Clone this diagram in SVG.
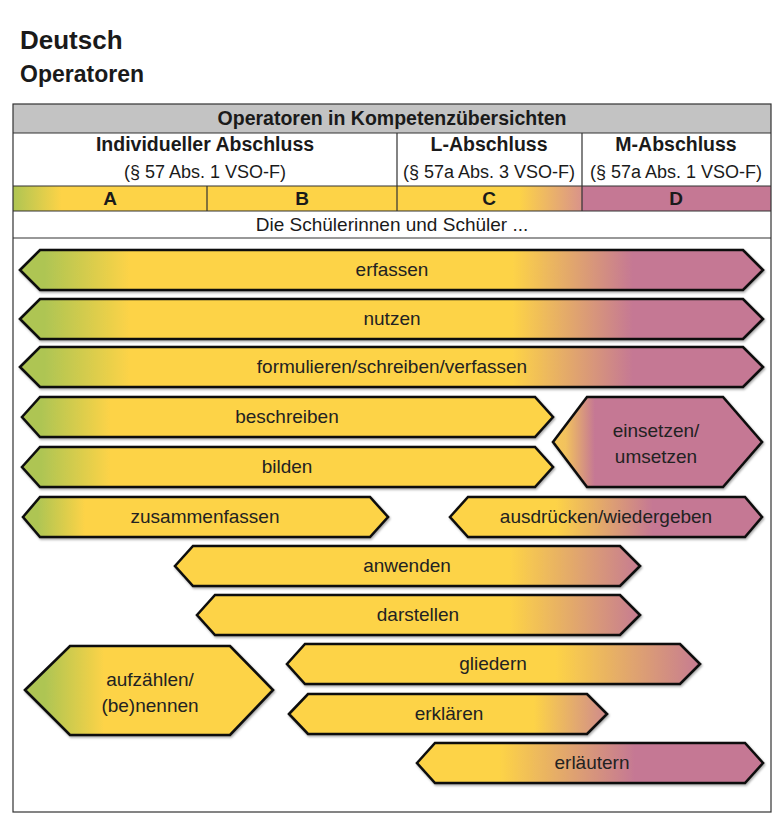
<svg xmlns="http://www.w3.org/2000/svg" width="779" height="818" viewBox="0 0 779 818">
<style>
.t{font-family:"Liberation Sans",Arial,sans-serif;fill:#1a1a1a}
.b{font-weight:bold}
.lab{font-family:"Liberation Sans",Arial,sans-serif;font-size:19px;fill:#222;text-anchor:middle}
.tc{text-anchor:middle}
.ln{stroke:#333;stroke-width:1.2;fill:none}
.sh{stroke:#111;stroke-width:2.6;stroke-linejoin:miter;filter:url(#ds)}
</style>
<defs>
<filter id="ds" x="-5%" y="-20%" width="110%" height="150%">
<feDropShadow dx="1" dy="1.5" stdDeviation="1" flood-color="#000" flood-opacity="0.35"/>
</filter>
<linearGradient id="gFull" gradientUnits="userSpaceOnUse" x1="20" y1="0" x2="763" y2="0">
<stop offset="0" stop-color="#AEC553"/><stop offset="0.033" stop-color="#AEC553"/><stop offset="0.148" stop-color="#FDD347"/><stop offset="0.663" stop-color="#FDD347"/><stop offset="0.825" stop-color="#C57894"/><stop offset="1" stop-color="#C57894"/>
</linearGradient>
<linearGradient id="gBes" gradientUnits="userSpaceOnUse" x1="20" y1="0" x2="553" y2="0">
<stop offset="0" stop-color="#AEC553"/><stop offset="0.04" stop-color="#AEC553"/><stop offset="0.17" stop-color="#FDD347"/><stop offset="1" stop-color="#FDD347"/>
</linearGradient>
<linearGradient id="gZus" gradientUnits="userSpaceOnUse" x1="23" y1="0" x2="388" y2="0">
<stop offset="0" stop-color="#AEC553"/><stop offset="0.04" stop-color="#AEC553"/><stop offset="0.17" stop-color="#FDD347"/><stop offset="1" stop-color="#FDD347"/>
</linearGradient>
<linearGradient id="gAuf" gradientUnits="userSpaceOnUse" x1="25" y1="0" x2="273" y2="0">
<stop offset="0" stop-color="#AEC553"/><stop offset="0.08" stop-color="#AEC553"/><stop offset="0.32" stop-color="#FDD347"/><stop offset="1" stop-color="#FDD347"/>
</linearGradient>
<linearGradient id="gEin" gradientUnits="userSpaceOnUse" x1="553" y1="0" x2="762" y2="0">
<stop offset="0" stop-color="#F6C957"/><stop offset="0.06" stop-color="#F2C25E"/><stop offset="0.2" stop-color="#C57894"/><stop offset="1" stop-color="#C57894"/>
</linearGradient>
<linearGradient id="gAus" gradientUnits="userSpaceOnUse" x1="450" y1="0" x2="762" y2="0">
<stop offset="0" stop-color="#FDD347"/><stop offset="0.34" stop-color="#FDD347"/><stop offset="0.65" stop-color="#C57894"/><stop offset="1" stop-color="#C57894"/>
</linearGradient>
<linearGradient id="gAnw" gradientUnits="userSpaceOnUse" x1="175" y1="0" x2="640" y2="0">
<stop offset="0" stop-color="#FDD347"/><stop offset="0.72" stop-color="#FDD347"/><stop offset="1" stop-color="#C67B92"/>
</linearGradient>
<linearGradient id="gDar" gradientUnits="userSpaceOnUse" x1="197" y1="0" x2="640" y2="0">
<stop offset="0" stop-color="#FDD347"/><stop offset="0.706" stop-color="#FDD347"/><stop offset="1" stop-color="#C67B92"/>
</linearGradient>
<linearGradient id="gGli" gradientUnits="userSpaceOnUse" x1="287" y1="0" x2="700" y2="0">
<stop offset="0" stop-color="#FDD347"/><stop offset="0.65" stop-color="#FDD347"/><stop offset="1" stop-color="#C67B92"/>
</linearGradient>
<linearGradient id="gErk" gradientUnits="userSpaceOnUse" x1="289" y1="0" x2="607" y2="0">
<stop offset="0" stop-color="#FDD347"/><stop offset="0.77" stop-color="#FDD347"/><stop offset="1" stop-color="#CF8A8D"/>
</linearGradient>
<linearGradient id="gErl" gradientUnits="userSpaceOnUse" x1="417" y1="0" x2="763" y2="0">
<stop offset="0" stop-color="#FDD347"/><stop offset="0.24" stop-color="#FDD347"/><stop offset="0.63" stop-color="#C57894"/><stop offset="1" stop-color="#C57894"/>
</linearGradient>
<linearGradient id="gA" gradientUnits="userSpaceOnUse" x1="13" y1="0" x2="207" y2="0">
<stop offset="0" stop-color="#AEC553"/><stop offset="0.25" stop-color="#FDD347"/><stop offset="1" stop-color="#FDD347"/>
</linearGradient>
<linearGradient id="gC" gradientUnits="userSpaceOnUse" x1="397" y1="0" x2="582" y2="0">
<stop offset="0" stop-color="#FDD347"/><stop offset="0.66" stop-color="#FDD347"/><stop offset="1" stop-color="#D9938A"/>
</linearGradient>
</defs>
<rect width="779" height="818" fill="#fff"/>

<g id="title">
<text class="t b" x="20" y="49" font-size="26">Deutsch</text>
<text class="t b" x="20" y="82" font-size="23">Operatoren</text>
</g>

<g id="table">
<rect x="13" y="104" width="758" height="29" fill="#C3C3C3"/>
<rect x="13" y="186" width="194" height="25" fill="url(#gA)"/>
<rect x="207" y="186" width="190" height="25" fill="#FDD347"/>
<rect x="397" y="186" width="185" height="25" fill="url(#gC)"/>
<rect x="582" y="186" width="189" height="25" fill="#C57894"/>
<rect class="ln" x="13" y="104" width="758" height="708" stroke-width="1.4"/>
<path class="ln" d="M13 133H771M13 186H771M13 211H771M13 238H771M397 133V211M582 133V211M207 186V211"/>
<text class="t b tc" x="392" y="125" font-size="19.5">Operatoren in Kompetenzübersichten</text>
<text class="t b tc" x="205" y="151" font-size="19.5">Individueller Abschluss</text>
<text class="t tc" x="205" y="178" font-size="18">(§ 57 Abs. 1 VSO-F)</text>
<text class="t b tc" x="489" y="151" font-size="19.5">L-Abschluss</text>
<text class="t tc" x="489" y="178" font-size="18">(§ 57a Abs. 3 VSO-F)</text>
<text class="t b tc" x="676" y="151" font-size="19.5">M-Abschluss</text>
<text class="t tc" x="676" y="178" font-size="18">(§ 57a Abs. 1 VSO-F)</text>
<text class="t b tc" x="110" y="205" font-size="19">A</text>
<text class="t b tc" x="302" y="205" font-size="19">B</text>
<text class="t b tc" x="489" y="205" font-size="19">C</text>
<text class="t b tc" x="676" y="205" font-size="19">D</text>
<text class="t tc" x="392" y="231" font-size="19">Die Schülerinnen und Schüler ...</text>
</g>

<g id="erfassen"><polygon class="sh" fill="url(#gFull)" points="20,270 40,250 743,250 763,270 743,290 40,290"/><text class="lab" x="392" y="276">erfassen</text></g>
<g id="nutzen"><polygon class="sh" fill="url(#gFull)" points="20,319 40,299 743,299 763,319 743,339 40,339"/><text class="lab" x="392" y="325">nutzen</text></g>
<g id="formulieren"><polygon class="sh" fill="url(#gFull)" points="20,367 40,347 743,347 763,367 743,387 40,387"/><text class="lab" x="392" y="373">formulieren/schreiben/verfassen</text></g>
<g id="beschreiben"><polygon class="sh" fill="url(#gBes)" points="22,417 40,397 535,397 553,417 535,437 40,437"/><text class="lab" x="287" y="423">beschreiben</text></g>
<g id="bilden"><polygon class="sh" fill="url(#gBes)" points="22,467 40,447 535,447 553,467 535,487 40,487"/><text class="lab" x="287" y="473">bilden</text></g>
<g id="einsetzen"><polygon class="sh" fill="url(#gEin)" points="553,442 587,397 723,397 762,442 723,487 587,487"/><text class="lab" x="656" y="437">einsetzen/</text><text class="lab" x="656" y="463">umsetzen</text></g>
<g id="zusammenfassen"><polygon class="sh" fill="url(#gZus)" points="23,517 40,497 370,497 388,517 370,537 40,537"/><text class="lab" x="205" y="523">zusammenfassen</text></g>
<g id="ausdruecken"><polygon class="sh" fill="url(#gAus)" points="450,517 468,497 745,497 762,517 745,537 468,537"/><text class="lab" x="606" y="523">ausdrücken/wiedergeben</text></g>
<g id="anwenden"><polygon class="sh" fill="url(#gAnw)" points="175,566 193,546 620,546 640,566 620,586 193,586"/><text class="lab" x="407" y="572">anwenden</text></g>
<g id="darstellen"><polygon class="sh" fill="url(#gDar)" points="197,615 215,595 620,595 640,615 620,635 215,635"/><text class="lab" x="418" y="621">darstellen</text></g>
<g id="gliedern"><polygon class="sh" fill="url(#gGli)" points="287,664 305,644 680,644 700,664 680,684 305,684"/><text class="lab" x="493" y="670">gliedern</text></g>
<g id="aufzaehlen"><polygon class="sh" fill="url(#gAuf)" points="25,690 70,646 230,646 273,690 230,735 70,735"/><text class="lab" x="150" y="686">aufzählen/</text><text class="lab" x="150" y="712">(be)nennen</text></g>
<g id="erklaeren"><polygon class="sh" fill="url(#gErk)" points="289,714 308,694 587,694 607,714 587,734 308,734"/><text class="lab" x="449" y="720">erklären</text></g>
<g id="erlaeutern"><polygon class="sh" fill="url(#gErl)" points="417,763 435,743 745,743 763,763 745,783 435,783"/><text class="lab" x="592" y="769">erläutern</text></g>
<g id="connectors"/>
</svg>
